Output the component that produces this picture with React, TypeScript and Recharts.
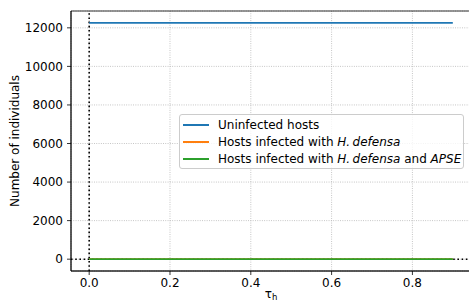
import React from 'react';
import {
  LineChart,
  Line,
  XAxis,
  YAxis,
  CartesianGrid,
  ReferenceLine,
  ReferenceArea,
  Legend,
} from 'recharts';

const tauValues = [0, 0.1, 0.2, 0.3, 0.4, 0.5, 0.6, 0.7, 0.8, 0.9];
const uninfected = [12260, 12260, 12260, 12260, 12260, 12260, 12260, 12260, 12260, 12260];
const infectedHD = [0, 0, 0, 0, 0, 0, 0, 0, 0, 0];
const infectedHDAPSE = [0, 0, 0, 0, 0, 0, 0, 0, 0, 0];

const xTicks = [0, 0.2, 0.4, 0.6, 0.8];
const yTicks = [0, 2000, 4000, 6000, 8000, 10000, 12000];
const xDomain: [number, number] = [-0.045, 0.945];
const yDomain: [number, number] = [-613, 12873];

const data = tauValues.map((t, i) => ({
  tau: t,
  uninfected: uninfected[i],
  hd: infectedHD[i],
  hdapse: infectedHDAPSE[i],
}));

const FONT = '"DejaVu Sans", sans-serif';
const FS = 12;
const COLORS = { blue: '#1f77b4', orange: '#ff7f0e', green: '#2ca02c' };

const legendItems = [
  { color: COLORS.blue, label: <>Uninfected hosts</> },
  { color: COLORS.orange, label: <>Hosts infected with <i>H.&thinsp;defensa</i></> },
  {
    color: COLORS.green,
    label: (
      <>
        Hosts infected with <i>H.&thinsp;defensa</i> and <i>APSE</i>
      </>
    ),
  },
];

const LegendBox = () => (
  <div
    style={{
      width: 285,
      height: 55,
      boxSizing: 'border-box',
      border: '1px solid #cccccc',
      borderRadius: 3,
      background: 'rgba(255,255,255,0.8)',
      fontFamily: FONT,
      fontSize: FS,
      color: '#000',
      paddingTop: 1,
      paddingLeft: 3,
    }}
  >
    {legendItems.map((it, i) => (
      <div key={i} style={{ display: 'flex', alignItems: 'center', height: 17, whiteSpace: 'nowrap' }}>
        <div style={{ width: 26, height: 2, background: it.color, marginRight: 9 }} />
        <span>{it.label}</span>
      </div>
    ))}
  </div>
);

export default function App() {
  return (
    <div style={{ position: 'absolute', left: 0, top: 0, background: '#fff' }}>
      <LineChart
        width={469}
        height={305}
        data={data}
        margin={{ top: 11, right: -2, bottom: 0, left: 0 }}
      >
        <CartesianGrid stroke="#b0b0b0" strokeDasharray="0.9 1.4" strokeWidth={0.8} />
        <XAxis
          dataKey="tau"
          type="number"
          domain={xDomain}
          ticks={xTicks}
          allowDataOverflow
          height={34}
          tickSize={4}
          tickMargin={3}
          tick={{ fill: '#000', fontSize: FS, fontFamily: FONT }}
          tickFormatter={(v: number) => v.toFixed(1)}
          axisLine={{ stroke: '#000', strokeWidth: 0.8 }}
          tickLine={{ stroke: '#000', strokeWidth: 0.8 }}
          label={{
            content: (props: any) => {
              const vb = props.viewBox;
              return (
                <text
                  x={vb.x + vb.width / 2}
                  y={vb.y + 27}
                  textAnchor="middle"
                  fontFamily={FONT}
                  fontSize={FS}
                  fill="#000"
                >
                  <tspan>τ</tspan>
                  <tspan fontSize={8.5} dy={2}>h</tspan>
                </text>
              );
            },
          }}
        />
        <YAxis
          type="number"
          domain={yDomain}
          ticks={yTicks}
          allowDataOverflow
          width={71}
          tickSize={4}
          tickMargin={4}
          tick={{ fill: '#000', fontSize: FS, fontFamily: FONT }}
          axisLine={{ stroke: '#000', strokeWidth: 0.8 }}
          tickLine={{ stroke: '#000', strokeWidth: 0.8 }}
          label={{
            content: (props: any) => {
              const vb = props.viewBox;
              const x = vb.x + 15;
              const y = vb.y + vb.height / 2;
              return (
                <text
                  x={x}
                  y={y}
                  transform={`rotate(-90, ${x}, ${y})`}
                  textAnchor="middle"
                  dominantBaseline="central"
                  fontFamily={FONT}
                  fontSize={FS}
                  fill="#000"
                >
                  Number of individuals
                </text>
              );
            },
          }}
        />
        <ReferenceArea
          x1={xDomain[0]}
          x2={xDomain[1]}
          y1={yDomain[0]}
          y2={yDomain[1]}
          fill="none"
          stroke="#000"
          strokeWidth={0.8}
          ifOverflow="visible"
        />
        <ReferenceLine x={0} stroke="#000" strokeWidth={1.6} strokeDasharray="1.6 2.6" />
        <ReferenceLine y={0} stroke="#000" strokeWidth={1.6} strokeDasharray="1.6 2.6" />
        <Line
          dataKey="uninfected"
          stroke={COLORS.blue}
          strokeWidth={1.7}
          dot={false}
          isAnimationActive={false}
        />
        <Line
          dataKey="hd"
          stroke={COLORS.orange}
          strokeWidth={1.7}
          dot={false}
          isAnimationActive={false}
        />
        <Line
          dataKey="hdapse"
          stroke={COLORS.green}
          strokeWidth={1.7}
          dot={false}
          isAnimationActive={false}
        />
        <Legend
          layout="vertical"
          align="center"
          verticalAlign="middle"
          content={() => <LegendBox />}
          wrapperStyle={{ left: 179, top: 114, width: 'auto', height: 'auto' }}
        />
      </LineChart>
    </div>
  );
}
